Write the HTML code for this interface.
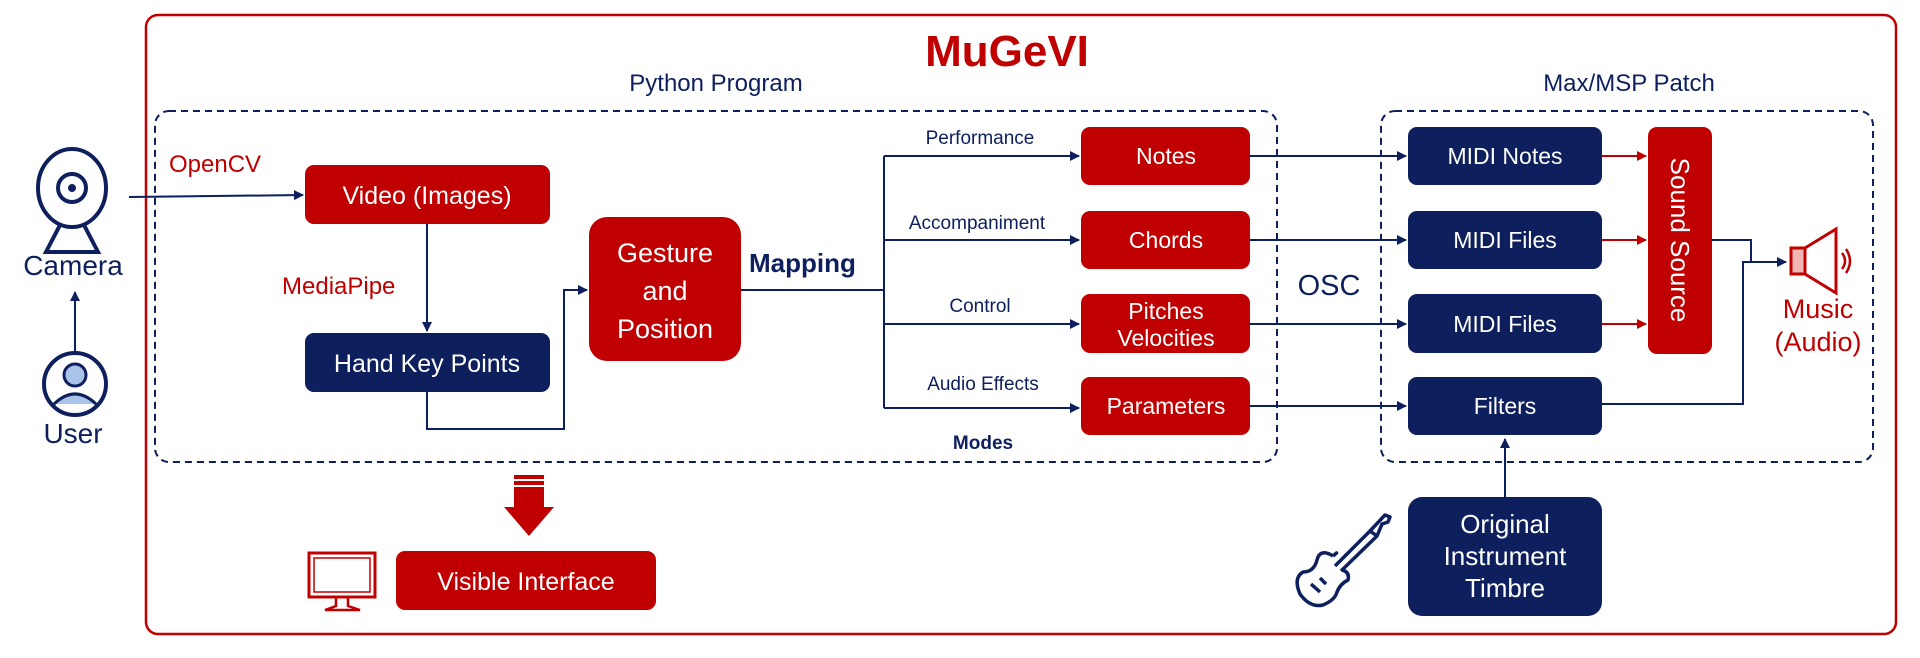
<!DOCTYPE html>
<html><head><meta charset="utf-8"><style>
html,body{margin:0;padding:0;background:#fff;}
svg{display:block;}
text{font-family:"Liberation Sans",sans-serif;}
</style></head><body>
<svg width="1920" height="658" viewBox="0 0 1920 658" xmlns="http://www.w3.org/2000/svg">
<defs>
<marker id="an" markerWidth="10" markerHeight="10" refX="9" refY="5" orient="auto" markerUnits="userSpaceOnUse"><path d="M0,0 L10,5 L0,10 Z" fill="#0d1f5c"/></marker>
<marker id="ar" markerWidth="10" markerHeight="10" refX="9" refY="5" orient="auto" markerUnits="userSpaceOnUse"><path d="M0,0 L10,5 L0,10 Z" fill="#c00000"/></marker>
</defs>
<rect x="146" y="15" width="1750" height="619" rx="12" fill="none" stroke="#c00000" stroke-width="2.5"/>
<text x="1007" y="66" font-size="44" font-weight="bold" fill="#c00000" text-anchor="middle">MuGeVI</text>
<text x="716" y="91" font-size="24" fill="#0d1f5c" text-anchor="middle">Python Program</text>
<text x="1629" y="91" font-size="24" fill="#0d1f5c" text-anchor="middle">Max/MSP Patch</text>
<rect x="155" y="111" width="1122" height="351" rx="14" fill="none" stroke="#0d1f5c" stroke-width="2" stroke-dasharray="7,5"/>
<rect x="1381" y="111" width="492" height="351" rx="14" fill="none" stroke="#0d1f5c" stroke-width="2" stroke-dasharray="7,5"/>

<!-- camera -->
<g fill="none" stroke="#0d1f5c" stroke-width="4">
<ellipse cx="72" cy="188" rx="34" ry="39"/>
<circle cx="72" cy="188" r="14"/>
<path d="M60,225 L46,252 L98,252 L84,225"/>
</g>
<circle cx="72" cy="188" r="4" fill="#0d1f5c"/>
<text x="73" y="275" font-size="28" fill="#0d1f5c" text-anchor="middle">Camera</text>
<line x1="75" y1="352" x2="75" y2="292" stroke="#0d1f5c" stroke-width="2" marker-end="url(#an)"/>
<circle cx="75" cy="384" r="31" fill="#fff" stroke="#0d1f5c" stroke-width="4"/>
<circle cx="75" cy="375" r="11" fill="#a9c4e8" stroke="#0d1f5c" stroke-width="3"/>
<path d="M54,404 Q75,384 96,404" fill="#a9c4e8" stroke="#0d1f5c" stroke-width="3"/>
<text x="73" y="443" font-size="28" fill="#0d1f5c" text-anchor="middle">User</text>

<text x="169" y="172" font-size="24" fill="#c00000">OpenCV</text>
<line x1="129" y1="197" x2="303" y2="195" stroke="#0d1f5c" stroke-width="2" marker-end="url(#an)"/>
<rect x="305" y="165" width="245" height="59" rx="9" fill="#c00000"/>
<text x="427" y="204" font-size="25" fill="#fff" text-anchor="middle">Video (Images)</text>
<text x="282" y="294" font-size="24" fill="#c00000">MediaPipe</text>
<line x1="427" y1="224" x2="427" y2="331" stroke="#0d1f5c" stroke-width="2" marker-end="url(#an)"/>
<rect x="305" y="333" width="245" height="59" rx="9" fill="#0d1f5c"/>
<text x="427" y="372" font-size="25" fill="#fff" text-anchor="middle">Hand Key Points</text>
<polyline points="427,392 427,429 564,429 564,290 587,290" fill="none" stroke="#0d1f5c" stroke-width="2" marker-end="url(#an)"/>
<rect x="589" y="217" width="152" height="144" rx="18" fill="#c00000"/>
<text x="665" y="262" font-size="27" fill="#fff" text-anchor="middle">Gesture</text>
<text x="665" y="300" font-size="27" fill="#fff" text-anchor="middle">and</text>
<text x="665" y="338" font-size="27" fill="#fff" text-anchor="middle">Position</text>
<text x="749" y="272" font-size="26" font-weight="bold" fill="#0d1f5c">Mapping</text>
<line x1="741" y1="290" x2="884" y2="290" stroke="#0d1f5c" stroke-width="2"/>
<line x1="884" y1="156" x2="884" y2="408" stroke="#0d1f5c" stroke-width="2"/>
<g stroke="#0d1f5c" stroke-width="2" marker-end="url(#an)">
<line x1="884" y1="156" x2="1079" y2="156"/>
<line x1="884" y1="240" x2="1079" y2="240"/>
<line x1="884" y1="324" x2="1079" y2="324"/>
<line x1="884" y1="408" x2="1079" y2="408"/>
<line x1="1250" y1="156" x2="1406" y2="156"/>
<line x1="1250" y1="240" x2="1406" y2="240"/>
<line x1="1250" y1="324" x2="1406" y2="324"/>
<line x1="1250" y1="406" x2="1406" y2="406"/>
</g>
<g font-size="19" fill="#0d1f5c" text-anchor="middle">
<text x="980" y="144">Performance</text>
<text x="977" y="229">Accompaniment</text>
<text x="980" y="312">Control</text>
<text x="983" y="390">Audio Effects</text>
</g>
<text x="983" y="449" font-size="19" font-weight="bold" fill="#0d1f5c" text-anchor="middle">Modes</text>
<g fill="#c00000">
<rect x="1081" y="127" width="169" height="58" rx="9"/>
<rect x="1081" y="211" width="169" height="58" rx="9"/>
<rect x="1081" y="294" width="169" height="59" rx="9"/>
<rect x="1081" y="377" width="169" height="58" rx="9"/>
</g>
<g font-size="23" fill="#fff" text-anchor="middle">
<text x="1166" y="164">Notes</text>
<text x="1166" y="248">Chords</text>
<text x="1166" y="319">Pitches</text>
<text x="1166" y="346">Velocities</text>
<text x="1166" y="414">Parameters</text>
</g>
<text x="1329" y="295" font-size="29" fill="#0d1f5c" text-anchor="middle">OSC</text>
<g fill="#0d1f5c">
<rect x="1408" y="127" width="194" height="58" rx="9"/>
<rect x="1408" y="211" width="194" height="58" rx="9"/>
<rect x="1408" y="294" width="194" height="59" rx="9"/>
<rect x="1408" y="377" width="194" height="58" rx="9"/>
<rect x="1408" y="497" width="194" height="119" rx="14"/>
</g>
<g font-size="23" fill="#fff" text-anchor="middle">
<text x="1505" y="164">MIDI Notes</text>
<text x="1505" y="248">MIDI Files</text>
<text x="1505" y="332">MIDI Files</text>
<text x="1505" y="414">Filters</text>
<text x="1505" y="533" font-size="26">Original</text>
<text x="1505" y="565" font-size="26">Instrument</text>
<text x="1505" y="597" font-size="26">Timbre</text>
</g>
<g stroke="#c00000" stroke-width="2" marker-end="url(#ar)">
<line x1="1602" y1="156" x2="1646" y2="156"/>
<line x1="1602" y1="240" x2="1646" y2="240"/>
<line x1="1602" y1="324" x2="1646" y2="324"/>
</g>
<rect x="1648" y="127" width="64" height="227" rx="9" fill="#c00000"/>
<text transform="translate(1671,240) rotate(90)" font-size="26" fill="#fff" text-anchor="middle">Sound Source</text>
<polyline points="1712,240 1751,240 1751,262" fill="none" stroke="#0d1f5c" stroke-width="2"/>
<polyline points="1602,404 1743,404 1743,262 1786,262" fill="none" stroke="#0d1f5c" stroke-width="2" marker-end="url(#an)"/>
<line x1="1505" y1="497" x2="1505" y2="439" stroke="#0d1f5c" stroke-width="2" marker-end="url(#an)"/>
<!-- speaker -->
<rect x="1791" y="248" width="14" height="26" fill="#f2b5b5" stroke="#c00000" stroke-width="3"/>
<path d="M1805,248 L1836,229 L1836,293 L1805,274 Z" fill="#fff" stroke="#c00000" stroke-width="3"/>
<path d="M1842,253 Q1848,261 1842,269" fill="none" stroke="#c00000" stroke-width="2.5"/>
<path d="M1846,249 Q1854,261 1846,273" fill="none" stroke="#c00000" stroke-width="2.5"/>
<text x="1818" y="318" font-size="27" fill="#c00000" text-anchor="middle">Music</text>
<text x="1818" y="351" font-size="27" fill="#c00000" text-anchor="middle">(Audio)</text>
<!-- guitar -->
<g fill="none" stroke="#0d1f5c" stroke-width="3.5" stroke-linejoin="round">
<path d="M1370,531 L1385,515 L1390,517 L1388,522 L1382,524 L1377,536 Z"/>
<path d="M1370,531 L1335,566 M1377,536 L1341,571"/>
<path d="M1333,556 Q1320,548 1317,560 Q1314,572 1303,572 Q1293,578 1300,594 Q1310,608 1323,605 Q1335,600 1337,592 Q1340,584 1348,580 Q1350,572 1342,570 M1333,556 Q1340,550 1333,556"/>
<line x1="1311" y1="584" x2="1320" y2="592"/>
<line x1="1320" y1="578" x2="1326" y2="584"/>
</g>
<!-- red down arrow -->
<rect x="514" y="475" width="30" height="4" fill="#c00000"/>
<rect x="514" y="481" width="30" height="4" fill="#c00000"/>
<rect x="514" y="487" width="30" height="20" fill="#c00000"/>
<path d="M504,507 L554,507 L529,536 Z" fill="#c00000"/>
<!-- monitor -->
<rect x="309" y="553" width="66" height="44" fill="none" stroke="#c00000" stroke-width="3"/>
<rect x="314" y="558" width="56" height="34" fill="none" stroke="#c00000" stroke-width="1.5"/>
<path d="M336,597 L336,606 L325,610 L360,610 L348,606 L348,597" fill="none" stroke="#c00000" stroke-width="2.5"/>
<rect x="396" y="551" width="260" height="59" rx="9" fill="#c00000"/>
<text x="526" y="590" font-size="25" fill="#fff" text-anchor="middle">Visible Interface</text>
</svg>
</body></html>
